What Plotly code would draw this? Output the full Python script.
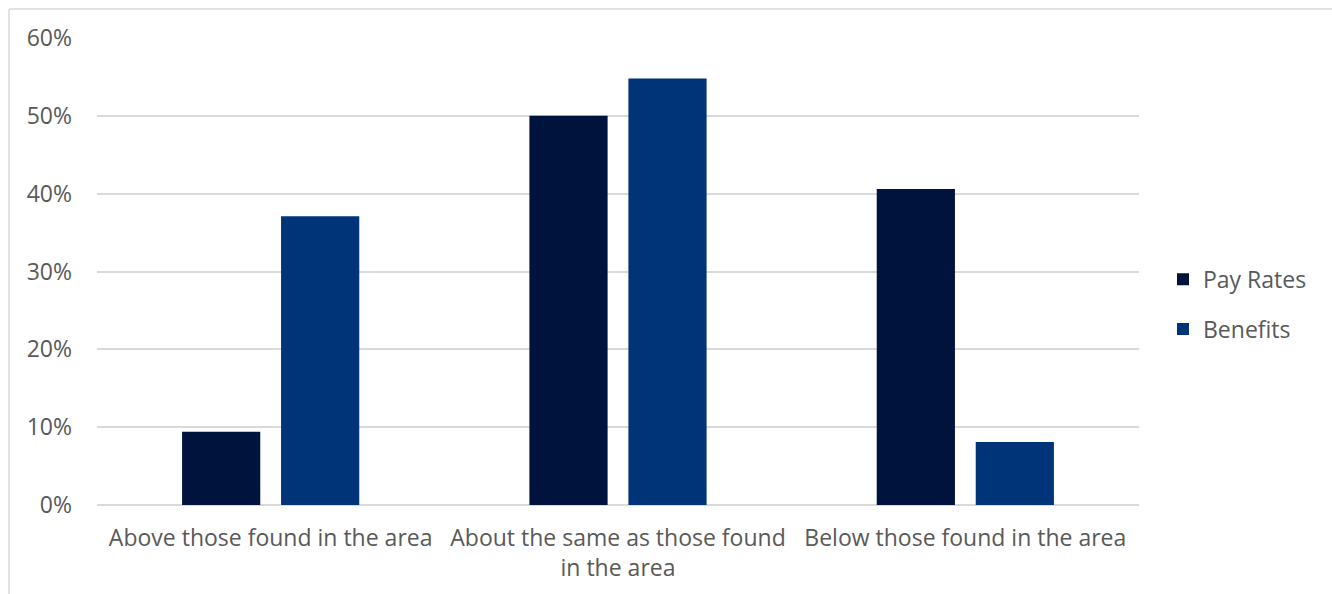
import plotly.graph_objects as go

categories = [
    "Above those found in the area",
    "About the same as those found<br>in the area",
    "Below those found in the area",
]
pay_rates = [0.094, 0.50, 0.406]
benefits = [0.371, 0.548, 0.081]
tick_vals = [0, 0.1, 0.2, 0.3, 0.4, 0.5, 0.6]
tick_text = ["0%", "10%", "20%", "30%", "40%", "50%", "60%"]

W, H = 1332, 594
ml, mr, mt, mb = 97, 193, 38, 89
pw, ph = W - ml - mr, H - mt - mb

fig = go.Figure()
fig.add_trace(go.Bar(name="Pay Rates", x=categories, y=pay_rates, legendgroup="pay",
                     marker=dict(color="#00133d", line=dict(width=0))))
fig.add_trace(go.Bar(name="Benefits", x=categories, y=benefits, legendgroup="ben",
                     marker=dict(color="#003479", line=dict(width=0))))

font = "'Open Sans', sans-serif"

# outer chart frame (top and left edges visible)
fx = (9 - ml) / pw
fy = (H - mb - 9) / ph
fig.add_shape(type="line", xref="paper", yref="paper", x0=fx, x1=(W - ml) / pw + 0.01,
              y0=fy, y1=fy, line=dict(color="#d9d9d9", width=1.5))
fig.add_shape(type="line", xref="paper", yref="paper", x0=fx, x1=fx,
              y0=fy, y1=-mb / ph - 0.01, line=dict(color="#d9d9d9", width=1.5))

fig.update_layout(
    width=W, height=H,
    margin=dict(l=ml, r=mr, t=mt, b=mb),
    paper_bgcolor="white", plot_bgcolor="white",
    barmode="group", bargap=0.43, bargroupgap=0.21,
    font=dict(family=font, color="#595959", size=23),
    legend=dict(x=(1163 - ml) / pw, xanchor="left", y=0.43, yanchor="middle",
                font=dict(size=23, color="#595959"), traceorder="grouped",
                tracegroupgap=17, itemwidth=30),
    xaxis=dict(showgrid=False, showline=False, ticks="", tickfont=dict(size=23),
               ticklabelstandoff=17),
    yaxis=dict(range=[0, 0.6], tickvals=tick_vals, ticktext=tick_text,
               showgrid=True, gridcolor="#d9d9d9", gridwidth=1.5,
               zeroline=True, zerolinecolor="#d9d9d9", zerolinewidth=1.5,
               ticks="", tickfont=dict(size=23), ticklabelstandoff=24),
)

fig.write_html("out.html")
